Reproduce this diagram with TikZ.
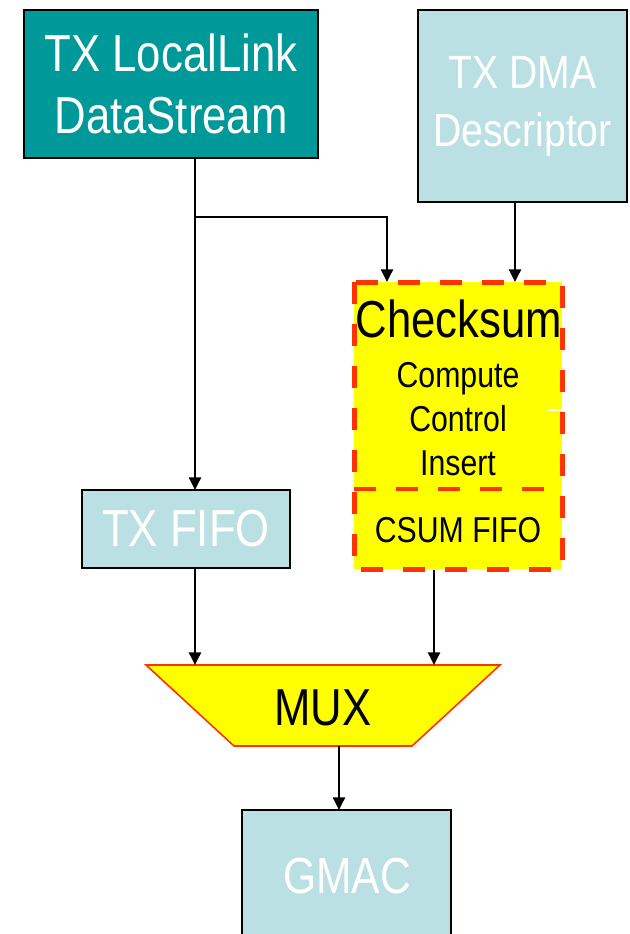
\documentclass[tikz,border=0pt]{standalone}
\usepackage{fontspec}
\setmainfont{Liberation Sans}[FakeStretch=0.84]
\usetikzlibrary{arrows.meta,fit}
\definecolor{tealbox}{HTML}{009999}
\definecolor{lightbox}{HTML}{BBE0E3}
\definecolor{ylw}{HTML}{FFFF00}
\definecolor{redash}{HTML}{FF3300}
\begin{document}
\begin{tikzpicture}[x=0.75pt,y=-0.75pt,
  box/.style={draw=black,line width=2pt,inner sep=0pt},
  conn/.style={line width=1.8pt,draw=black},
  arr/.style={conn,-{Triangle[length=9.5pt,width=9pt]}},
  bigtxt/.style={text=white,align=center,font=\fontsize{39}{47}\selectfont},
  midtxt/.style={text=white,align=center,font=\fontsize{35}{43.5}\selectfont},
  blk/.style={text=black,inner sep=0pt,anchor=base}]
\useasboundingbox (0,0) rectangle (629,934);
% boxes
\node[box,fill=tealbox,fit={(24,10) (318,158)}] (ll) {};
\node[bigtxt] at (ll.center) {TX LocalLink\\DataStream};
\node[box,fill=lightbox,fit={(418,10) (627,202)}] (dma) {};
\node[midtxt] at (dma.center) {TX DMA\\Descriptor};
\node[box,fill=lightbox,fit={(82,490) (290,568)}] (txfifo) {};
\node[bigtxt,font=\fontsize{39}{46}\selectfont] at (txfifo.center) {TX FIFO};
\node[box,fill=lightbox,fit={(242,810) (451,990)}] (gmac) {};
\node[blk,text=white,font=\fontsize{38}{44}\selectfont] at (347,893) {GMAC};
% checksum
\node[inner sep=0pt,fill=ylw,fit={(354,282) (562,489)}] (chk) {};
\node[inner sep=0pt,fill=ylw,fit={(354,489) (562,569)}] (csum) {};
\draw[redash,line width=3.75pt,dash pattern=on 16.5pt off 15pt] (354,282) rectangle (562,569);
\draw[redash,line width=3pt,dash pattern=on 16.5pt off 15pt] (354,489) -- (562,489);
\node[blk,font=\fontsize{39}{45}\selectfont] at (459,337) {Checksum};
\node[blk,font=\fontsize{27}{32}\selectfont] at (458,387) {Compute};
\node[blk,font=\fontsize{27}{32}\selectfont] at (458,431) {Control};
\node[blk,font=\fontsize{27}{32}\selectfont] at (458,475) {Insert};
\node[blk,font=\fontsize{27}{32}\selectfont] at (458,542) {CSUM FIFO};
\draw[white,line width=1.5pt] (548,410) -- (563,410);
% mux
\draw[redash,line width=1.2pt,fill=ylw] (146,665) -- (500,665) -- (412,746) -- (234,746) -- cycle;
\node[blk,font=\fontsize{39}{44}\selectfont] (mux) at (323,725) {MUX};
% coordinates
\coordinate (llout) at (195,158);
\coordinate (br) at (195,217);
\coordinate (brtop) at (387,217);
\coordinate (chkin) at (387,282);
\coordinate (dmaout) at (515,202);
\coordinate (chkin2) at (515,282);
\coordinate (fifoin) at (195,490);
\coordinate (fifoout) at (195,568);
\coordinate (muxa) at (195,665);
\coordinate (csout) at (434,570);
\coordinate (muxb) at (434,665);
\coordinate (muxout) at (339,746);
\coordinate (gmacin) at (339,810);
% connectors
\draw[arr] (llout) -- (fifoin);
\draw[arr] (br) -- (brtop) -- (chkin);
\draw[arr] (dmaout) -- (chkin2);
\draw[arr] (fifoout) -- (muxa);
\draw[arr] (csout) -- (muxb);
\draw[arr] (muxout) -- (gmacin);
\end{tikzpicture}
\end{document}
